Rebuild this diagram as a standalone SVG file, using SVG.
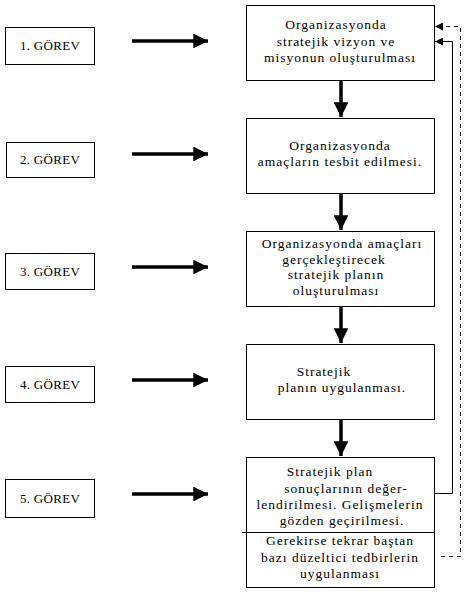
<svg xmlns="http://www.w3.org/2000/svg" width="464" height="592" viewBox="0 0 464 592">
<defs>
<style>
.box{fill:#fff;stroke:#000;stroke-width:1}
.t{font-family:"Liberation Serif",serif;font-size:13.5px;letter-spacing:1px;fill:#000;text-anchor:middle}
.g{font-family:"Liberation Serif",serif;font-size:13px;letter-spacing:0.3px;fill:#000;text-anchor:middle}
.shaft{stroke:#000;stroke-width:3.5;fill:none}
.fb{stroke:#000;stroke-width:1;fill:none}
.fbd{stroke:#000;stroke-width:1;fill:none;stroke-dasharray:4,4}
</style>
<marker id="ah" viewBox="0 0 10 10" refX="10" refY="5" markerWidth="5.5" markerHeight="4.2" markerUnits="strokeWidth" orient="auto"><path d="M0,0 L10,5 L0,10 z" fill="#000"/></marker>
<marker id="sh" viewBox="0 0 10 10" refX="10" refY="5" markerWidth="9" markerHeight="8" markerUnits="strokeWidth" orient="auto"><path d="M0,0 L10,5 L0,10 z" fill="#000"/></marker>
</defs>
<rect width="464" height="592" fill="#fff"/>
<g id="gorev1"><rect class="box" x="5.5" y="27.5" width="89" height="37"/><text class="g" x="50" y="50">1. GÖREV</text></g>
<g id="gorev2"><rect class="box" x="6.5" y="142.5" width="88" height="35"/><text class="g" x="50" y="164">2. GÖREV</text></g>
<g id="gorev3"><rect class="box" x="5.5" y="253.5" width="89" height="36"/><text class="g" x="50" y="276">3. GÖREV</text></g>
<g id="gorev4"><rect class="box" x="5.5" y="366.5" width="89" height="36"/><text class="g" x="50" y="389">4. GÖREV</text></g>
<g id="gorev5"><rect class="box" x="5.5" y="479.5" width="89" height="38"/><text class="g" x="50" y="503">5. GÖREV</text></g>
<g id="step1"><rect class="box" x="246.5" y="5.5" width="188" height="75"/>
<text class="t" x="336" y="29">Organizasyonda</text>
<text class="t" x="336" y="46">stratejik vizyon ve</text>
<text class="t" x="340" y="62">misyonun oluşturulması</text></g>
<g id="step2"><rect class="box" x="246.5" y="118.5" width="188" height="75"/>
<text class="t" x="340" y="150">Organizasyonda</text>
<text class="t" x="340" y="166">amaçların tesbit edilmesi.</text></g>
<g id="step3"><rect class="box" x="246.5" y="231.5" width="188" height="75"/>
<text class="t" x="342" y="248">Organizasyonda amaçları</text>
<text class="t" x="334" y="264">gerçekleştirecek</text>
<text class="t" x="336" y="279">stratejik planın</text>
<text class="t" x="336" y="295">oluşturulması</text></g>
<g id="step4"><rect class="box" x="246.5" y="344.5" width="188" height="75"/>
<text class="t" x="324" y="376">Stratejik</text>
<text class="t" x="342" y="392">planın uygulanması.</text></g>
<g id="step5"><rect class="box" x="246.5" y="457.5" width="188" height="130"/>
<line x1="242" y1="532.5" x2="434" y2="532.5" stroke="#000" stroke-width="1"/>
<text class="t" x="330" y="476">Stratejik plan</text>
<text class="t" x="346" y="493">sonuçlarının değer-</text>
<text class="t" x="340" y="509">lendirilmesi. Gelişmelerin</text>
<text class="t" x="342" y="525">gözden geçirilmesi.</text>
<text class="t" x="340" y="545">Gerekirse tekrar baştan</text>
<text class="t" x="340" y="562">bazı düzeltici tedbirlerin</text>
<text class="t" x="340" y="578">uygulanması</text></g>
<g id="connectors">
<line class="shaft" x1="132" y1="41" x2="208" y2="41" marker-end="url(#ah)"/>
<line class="shaft" x1="132" y1="154" x2="208" y2="154" marker-end="url(#ah)"/>
<line class="shaft" x1="132" y1="267" x2="208" y2="267" marker-end="url(#ah)"/>
<line class="shaft" x1="132" y1="380" x2="208" y2="380" marker-end="url(#ah)"/>
<line class="shaft" x1="132" y1="494" x2="208" y2="494" marker-end="url(#ah)"/>
<line class="shaft" x1="341" y1="80" x2="341" y2="117" marker-end="url(#ah)"/>
<line class="shaft" x1="341" y1="193" x2="341" y2="230" marker-end="url(#ah)"/>
<line class="shaft" x1="341" y1="306" x2="341" y2="343" marker-end="url(#ah)"/>
<line class="shaft" x1="341" y1="419" x2="341" y2="456" marker-end="url(#ah)"/>
<polyline class="fb" points="434,493.5 452.5,493.5 452.5,41.5 435,41.5" marker-end="url(#sh)"/>
<polyline class="fbd" points="441,556.5 460.5,556.5 460.5,26.5 435,26.5" marker-end="url(#sh)"/>
</g>
</svg>
